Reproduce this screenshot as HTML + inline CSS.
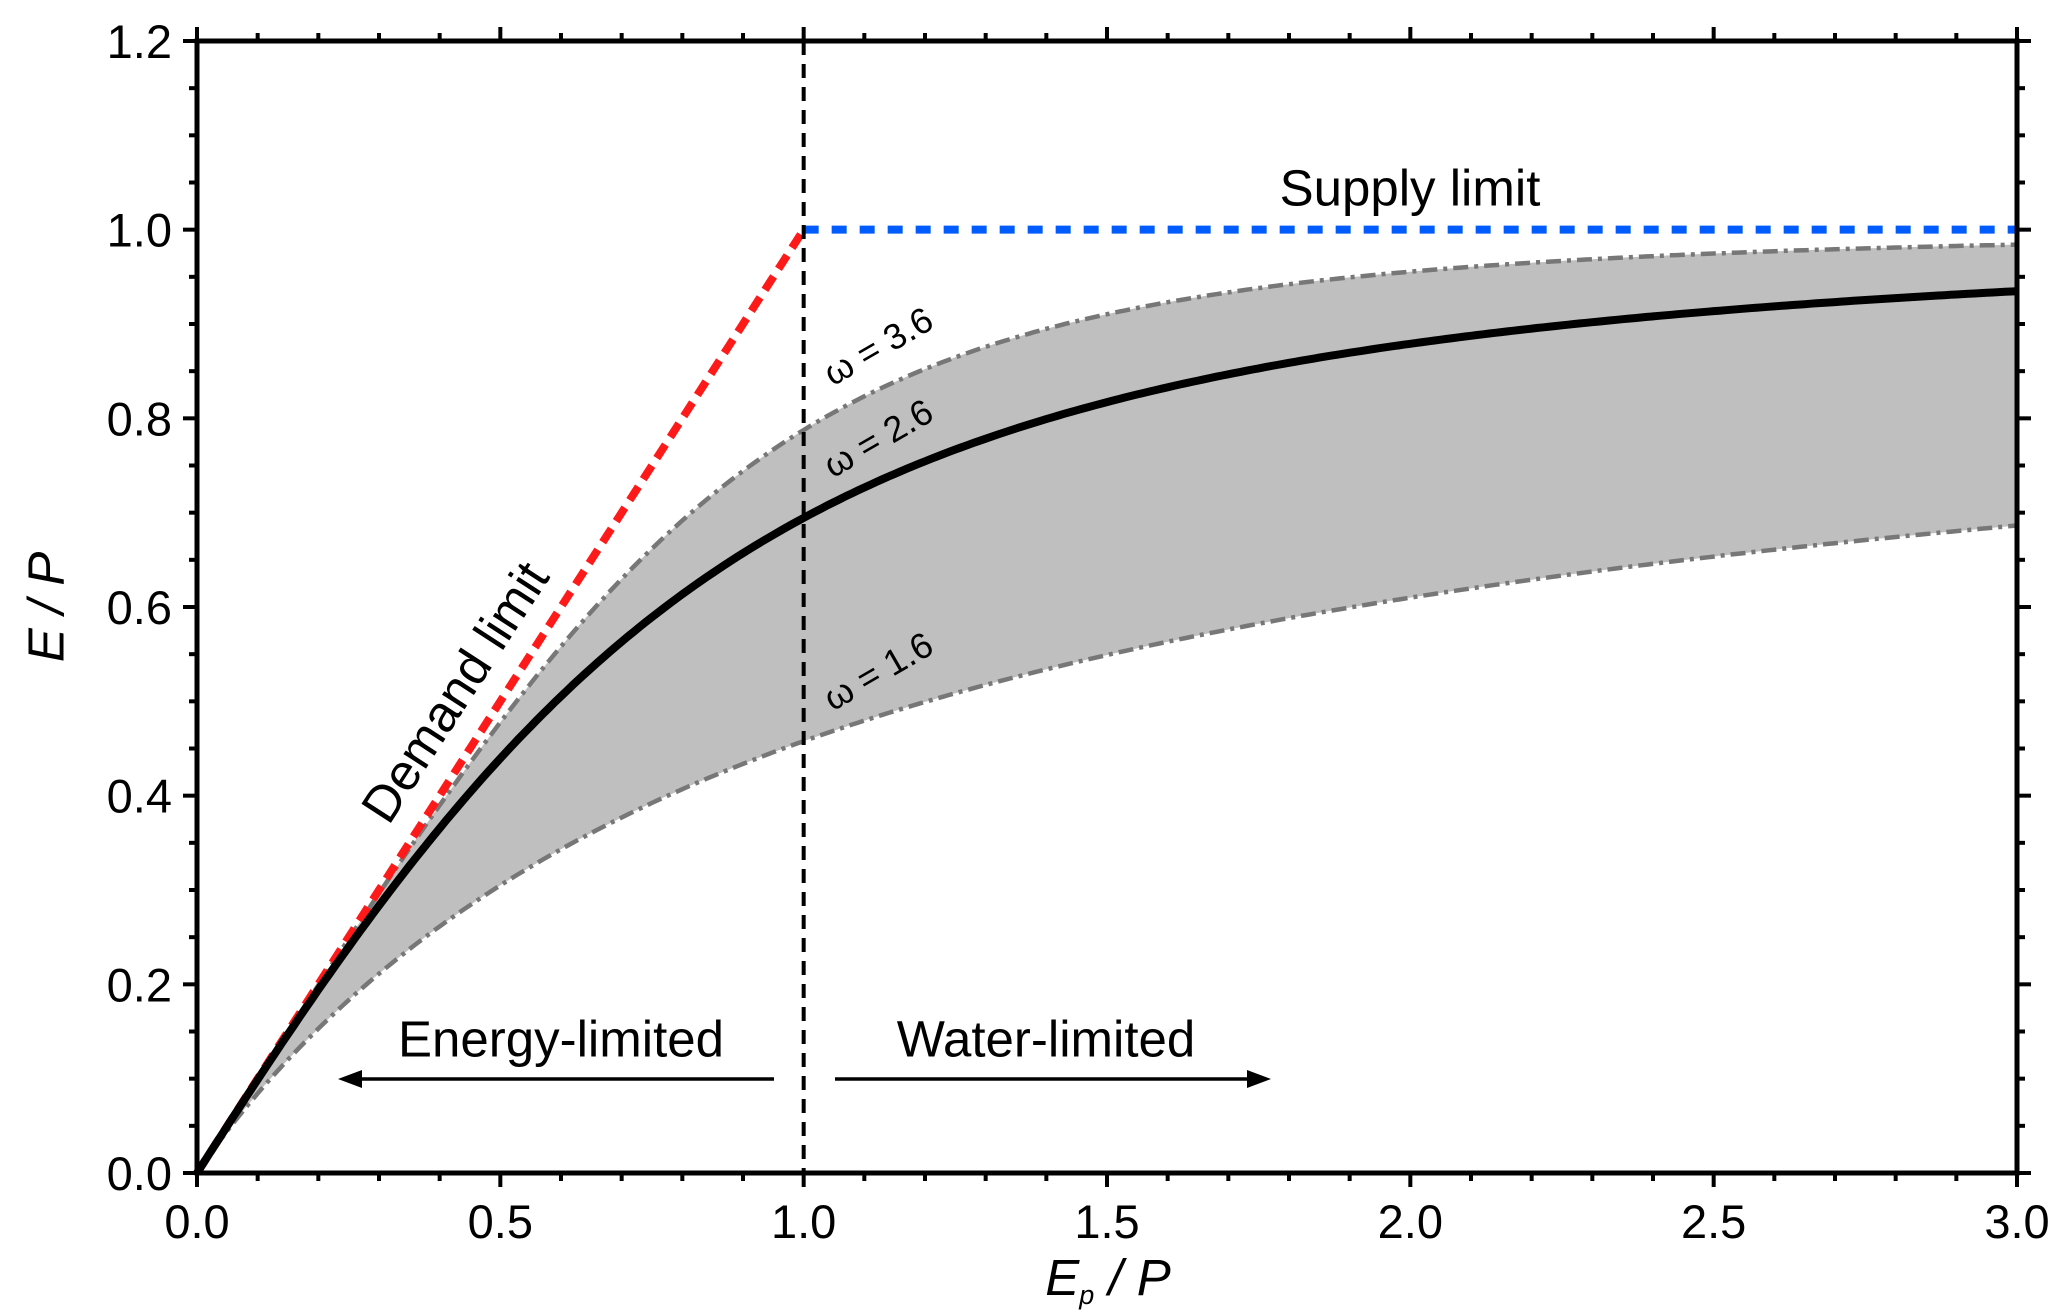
<!DOCTYPE html>
<html><head><meta charset="utf-8"><style>
html,body{margin:0;padding:0;background:#fff}
svg{display:block;font-family:"Liberation Sans",Arial,sans-serif}
</style></head><body>
<svg id="chart" width="2067" height="1315" viewBox="0 0 2067 1315" xmlns="http://www.w3.org/2000/svg">
<g id="plot"></g>
<g id="axes"></g>
</svg>
<script>
const omegas = [1.6, 2.6, 3.6];
const xTickLabels = ["0.0","0.5","1.0","1.5","2.0","2.5","3.0"];
const yTickLabels = ["0.0","0.2","0.4","0.6","0.8","1.0","1.2"];
const supplyLimit = [1.0, 1.0];
const demandLimitEnd = [1.0, 1.0];

const X0=197, X1=2017, Y0=1173, Y1=41;
const sx = v => X0 + (X1-X0)*v/3;
const sy = v => Y0 - (Y0-Y1)*v/1.2;
const NS="http://www.w3.org/2000/svg";
const plot=document.getElementById('plot'), axes=document.getElementById('axes');
function mk(tag, attrs, parent){const e=document.createElementNS(NS,tag);for(const k in attrs)e.setAttribute(k,attrs[k]);parent.appendChild(e);return e;}
function fu(x,w){return 1+x-Math.pow(1+Math.pow(x,w),1/w);}
function pts(w){const a=[];for(let i=0;i<=300;i++){const x=i*0.01;a.push([sx(x),sy(fu(x,w))]);}return a;}
const lo=pts(omegas[0]), mid=pts(omegas[1]), hi=pts(omegas[2]);
const toD=a=>a.map((p,i)=>(i?'L':'M')+p[0].toFixed(1)+','+p[1].toFixed(1)).join('');
let band=mk('path',{d:toD(hi)+lo.slice().reverse().map(p=>'L'+p[0].toFixed(1)+','+p[1].toFixed(1)).join('')+'Z',fill:'#bfbfbf',stroke:'none'},plot);


let e1=mk('path',{d:toD(hi),fill:'none',stroke:'#777','stroke-width':4.5,'stroke-dasharray':'15 6 4 6'},plot);


let e2=mk('path',{d:toD(lo),fill:'none',stroke:'#777','stroke-width':4.5,'stroke-dasharray':'15 6 4 6'},plot);


let dl=mk('line',{x1:sx(0),y1:sy(0),x2:sx(demandLimitEnd[0]),y2:sy(demandLimitEnd[1]),stroke:'#ff1a1a','stroke-width':8,'stroke-dasharray':'16 9'},plot);


let c=mk('path',{d:toD(mid),fill:'none',stroke:'#000','stroke-width':8},plot);


let sl=mk('line',{x1:sx(1),y1:sy(supplyLimit[0]),x2:sx(3),y2:sy(supplyLimit[1]),stroke:'#005cff','stroke-width':8,'stroke-dasharray':'15 13'},plot);


let vl=mk('line',{x1:sx(1),y1:Y1,x2:sx(1),y2:Y0,stroke:'#000','stroke-width':4,'stroke-dasharray':'14 9'},plot);


let fr=mk('rect',{x:X0,y:Y1,width:X1-X0,height:Y0-Y1,fill:'none',stroke:'#000','stroke-width':5},axes);


for(let i=0;i<=30;i++){const v=i*0.1,x=sx(v),L=(i%5==0)?14:8;
 mk('line',{x1:x,y1:Y0,x2:x,y2:Y0+L,stroke:'#000','stroke-width':4},axes);
 mk('line',{x1:x,y1:Y1,x2:x,y2:Y1-L,stroke:'#000','stroke-width':4},axes);}
for(let i=0;i<=24;i++){const v=i*0.05,y=sy(v),L=(i%4==0)?14:8;
 mk('line',{x1:X0,y1:y,x2:X0-L,y2:y,stroke:'#000','stroke-width':4},axes);
 mk('line',{x1:X1,y1:y,x2:X1+L,y2:y,stroke:'#000','stroke-width':4},axes);}
xTickLabels.forEach((t,i)=>{let e=mk('text',{x:sx(i*0.5),y:1238,'font-size':47,'text-anchor':'middle'},axes);e.textContent=t;
 
 });
yTickLabels.forEach((t,i)=>{let e=mk('text',{x:172,y:sy(i*0.2)+17,'font-size':47,'text-anchor':'end'},axes);e.textContent=t;
 
 });
function txt(s,x,y,size,rot,name,extra){let e=mk('text',Object.assign({x:x,y:y,'font-size':size,'text-anchor':'middle','dominant-baseline':'central'},extra||{}),axes);
 if(rot)e.setAttribute('transform','rotate('+rot+' '+x+' '+y+')');e.textContent=s;
 
 return e;}
txt('Supply limit',1410,188,51,0,'supply-limit-label');
txt('Demand limit',455,692,51,-57,'demand-limit-label');
txt('ω = 3.6',878,346,36,-30,'omega-3.6-label');
txt('ω = 2.6',878,438,36,-30,'omega-2.6-label');
txt('ω = 1.6',878,671,36,-30,'omega-1.6-label');
txt('Energy-limited',561,1039,51,0,'energy-limited-label');
txt('Water-limited',1046,1039,51,0,'water-limited-label');
let a1=mk('path',{d:'M774,1079L355,1079',stroke:'#000','stroke-width':3.5,fill:'none'},axes);


mk('path',{d:'M338,1079L362,1070L362,1088Z',fill:'#000'},axes);
let a2=mk('path',{d:'M835,1079L1254,1079',stroke:'#000','stroke-width':3.5,fill:'none'},axes);


mk('path',{d:'M1271,1079L1247,1070L1247,1088Z',fill:'#000'},axes);
txt('E / P',46,607,51,-90,'y-axis-title',{'font-style':'italic'});
let xl=mk('text',{x:1108,y:1295,'font-size':51,'text-anchor':'middle','font-style':'italic'},axes);
xl.innerHTML='E<tspan font-size="27" dy="9">p</tspan><tspan dy="-9"> / P</tspan>';


</script>
</body></html>
